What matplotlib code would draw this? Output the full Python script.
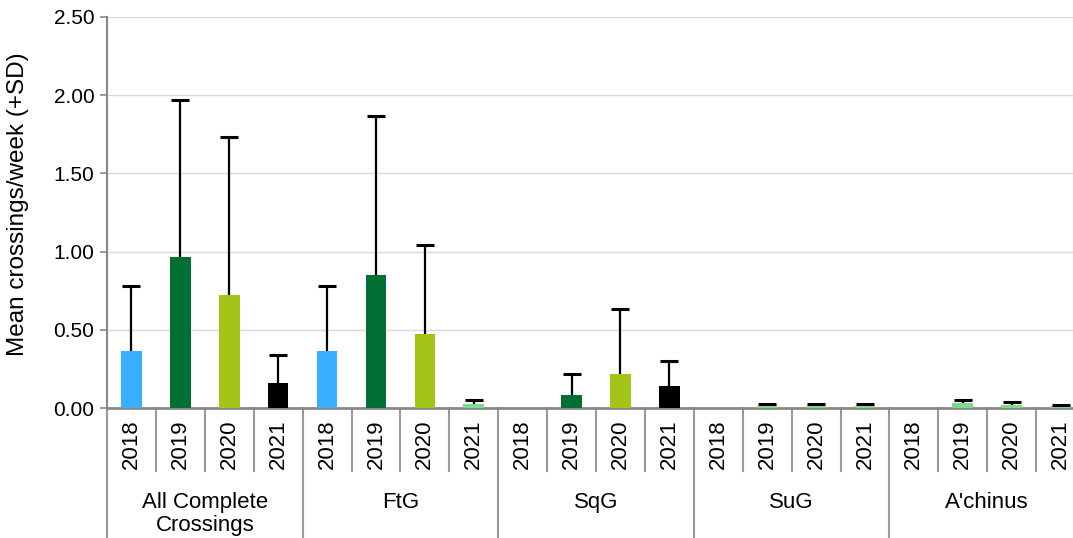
import matplotlib.pyplot as plt

groups = ["All Complete\nCrossings", "FtG", "SqG", "SuG", "A'chinus"]
years = ["2018", "2019", "2020", "2021"]

# mean values per group, per year (None = no bar)
means = [
    [0.365, 0.965, 0.72, 0.16],
    [0.365, 0.85, 0.47, 0.025],
    [None, 0.08, 0.22, 0.14],
    [None, 0.013, 0.013, 0.013],
    [None, 0.03, 0.021, 0.011],
]
sds = [
    [0.415, 1.005, 1.01, 0.18],
    [0.415, 1.02, 0.57, 0.025],
    [None, 0.14, 0.41, 0.16],
    [None, 0.012, 0.012, 0.01],
    [None, 0.018, 0.018, 0.01],
]
colors = [
    ["#38B0FF", "#006F33", "#A3C51A", "#000000"],
    ["#38B0FF", "#006F33", "#A3C51A", "#7ED98C"],
    ["#FFFFFF", "#006F33", "#A3C51A", "#000000"],
    ["#FFFFFF", "#7ED98C", "#7ED98C", "#7ED98C"],
    ["#FFFFFF", "#7ED98C", "#7ED98C", "#7ED98C"],
]

plt.rcParams['font.family'] = ['Liberation Sans', 'DejaVu Sans']
fig = plt.figure(figsize=(10.73, 5.38), dpi=100)
ax = fig.add_axes([107 / 1073, (538 - 408) / 538, (1085 - 107) / 1073, (408 - 17) / 538])

xs, hs, es, cs = [], [], [], []
for g in range(len(groups)):
    for y in range(len(years)):
        m = means[g][y]
        if m is None:
            continue
        xs.append(g * 4 + y)
        hs.append(m)
        es.append(sds[g][y])
        cs.append(colors[g][y])

tops = [h + e for h, e in zip(hs, es)]
ax.bar(xs, hs, width=0.42, color=cs, zorder=3)
# upper error bars only
ax.vlines(xs, hs, tops, color="black", lw=1.6, zorder=4)
ax.plot(xs, tops, ls="none", marker="_", ms=13, mew=2.2, color="black", zorder=4)

ax.set_xlim(-0.5, 19.5)
ax.set_ylim(0, 2.5)
yt = [0, 0.5, 1.0, 1.5, 2.0, 2.5]
ax.set_yticks(yt)
ax.set_yticklabels([f"{v:.2f}" for v in yt], fontsize=15)
ax.set_ylabel("Mean crossings/week (+SD)", fontsize=17.5)
ax.yaxis.set_label_coords(-0.08, 0.52)
ax.grid(axis="y", color="#D9D9D9", linewidth=1, zorder=0)
ax.tick_params(axis="y", length=5, color="#888888", width=1.2, pad=4)
for s in ["top", "right"]:
    ax.spines[s].set_visible(False)
ax.spines["left"].set_color("#888888")
ax.spines["left"].set_linewidth(1.5)
ax.spines["bottom"].set_color("#888888")
ax.spines["bottom"].set_linewidth(2)

ax.set_xticks([])
trans = ax.get_xaxis_transform()
# separators and labels in the category area
for i in range(21):
    x = i - 0.5
    low = -0.33 if i % 4 == 0 else -0.16
    ax.plot([x, x], [0, low], transform=trans, color="#999999", lw=1.5, clip_on=False)
for i in range(20):
    ax.text(i, -0.093, years[i % 4], transform=trans, rotation=90, ha="center",
            va="center", fontsize=16)
for g, name in enumerate(groups):
    ax.text(g * 4 + 1.5, -0.215, name, transform=trans, ha="center", va="top",
            fontsize=16, linespacing=1.1)

fig.savefig("out.png", dpi=100)
